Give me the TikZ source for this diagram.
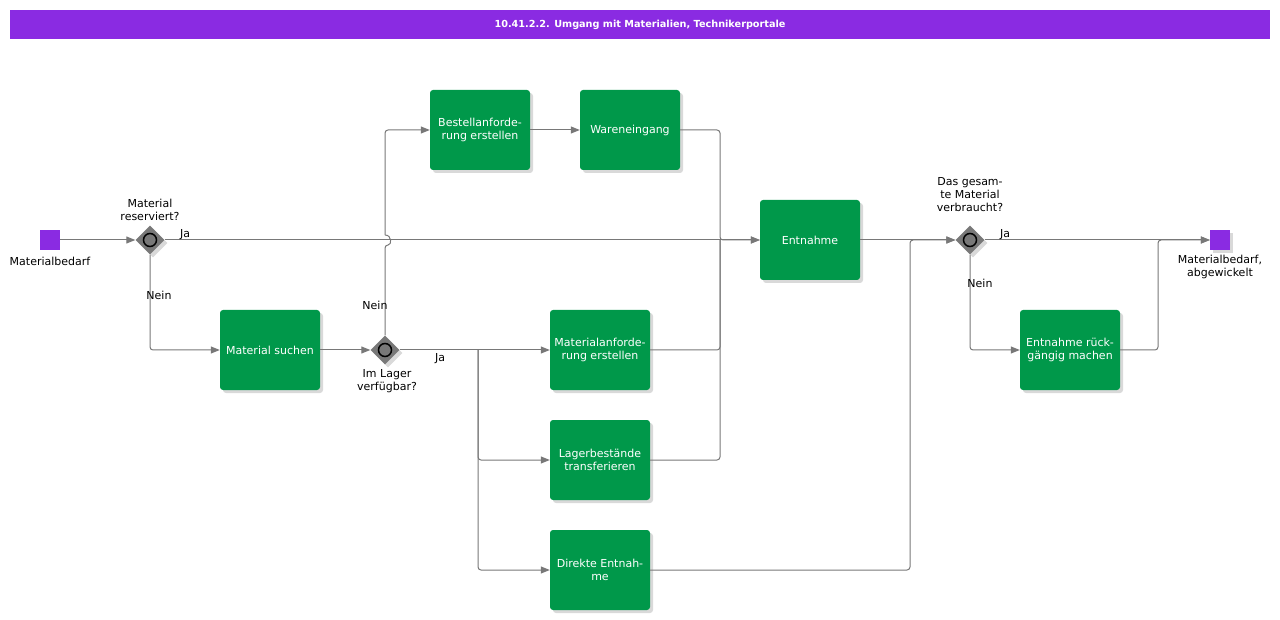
\documentclass[tikz,border=0pt]{standalone}
\usepackage{fontspec}
\setmainfont{DejaVu Sans}
\usetikzlibrary{shapes.geometric,arrows.meta,shadows}
\definecolor{titlepurple}{RGB}{138,43,226}
\definecolor{taskgreen}{RGB}{0,152,74}
\definecolor{flowgray}{RGB}{120,120,120}
\tikzset{
  lbl/.style={font=\fontsize{11}{13}\selectfont, align=center, inner sep=0pt},
  task/.style={fill=taskgreen, rounded corners=3pt, minimum width=100pt, minimum height=80pt,
    text=white, align=center, font=\fontsize{11}{12.5}\selectfont,
    drop shadow={shadow xshift=3pt, shadow yshift=-3pt, opacity=.3}},
  gate/.style={diamond, fill=flowgray, minimum size=29pt, inner sep=0pt,
    drop shadow={shadow xshift=3pt, shadow yshift=-3pt, opacity=.3}},
  ring/.style={circle, draw=black, line width=1.5pt, fill=flowgray, minimum size=13pt, inner sep=0pt},
  event/.style={fill=titlepurple, minimum size=20pt, inner sep=0pt},
  flow/.style={draw=flowgray, line width=1pt, rounded corners=3pt},
  arr/.style={-{Triangle[length=9pt,width=7pt,fill=flowgray]}}
}
\begin{document}
\begin{tikzpicture}[x=1pt,y=-1pt]
\useasboundingbox (0,0) rectangle (1280,620);
% title bar
\fill[titlepurple] (10,10) rectangle (1270,39);
\node[text=white, font=\fontsize{9.7}{12}\selectfont\bfseries] (title) at (640,24.5) {10.41.2.2. Umgang mit Materialien, Technikerportale};

% events
\node[event] (start) at (50,240) {};
\node[event, drop shadow={shadow xshift=3pt, shadow yshift=-3pt, opacity=.3}] (ende) at (1220,240) {};
\node[lbl] (startlbl) at (50,261) {Materialbedarf};
\node[lbl] (endelbl) at (1220,267) {Materialbedarf,\\abgewickelt};

% gateways
\node[gate] (g1) at (150,240) {};
\node[ring] at (g1) {};
\node[gate] (g2) at (385,350) {};
\node[ring] at (g2) {};
\node[gate] (g3) at (970,240) {};
\node[ring] at (g3) {};
\node[lbl] (g1lbl) at (150,209.5) {Material\\reserviert?};
\node[lbl] (g2lbl) at (387,381.5) {Im Lager\\verfügbar?};
\node[lbl] (g3lbl) at (970,194.5) {Das gesam-\\te Material\\verbraucht?};

% tasks
\node[task] (such) at (270,350) {Material suchen};
\node[task] (best) at (480,130) {Bestellanforde-\\rung erstellen};
\node[task] (ware) at (630,130) {Wareneingang};
\node[task] (entn) at (810,240) {Entnahme};
\node[task] (mata) at (600,350) {Materialanforde-\\rung erstellen};
\node[task] (lager) at (600,460) {Lagerbestände\\transferieren};
\node[task] (direkt) at (600,570) {Direkte Entnah-\\me};
\node[task] (rueck) at (1070,350) {Entnahme rück-\\gängig machen};

% helper points
\coordinate (split) at (478,350);
\coordinate (join) at (720,240);
\coordinate (rise) at (910,240);
\coordinate (back) at (1158,240);

% flows
\draw[flow,arr] (start) -- (g1.west);
\draw[flow,arr] (g1.east) -- (entn.west);
\draw[flow,arr] (g1.south) |- (such.west);
\draw[flow,arr] (such) -- (g2.west);
\draw[flow] (g2.north) -- ([yshift=-5pt]g2.north |- g1.east)
  .. controls +(7pt,0) and +(7pt,0) .. ([yshift=5pt]g2.north |- g1.east);
\draw[flow,arr] ([yshift=5pt]g2.north |- g1.east) |- (best.west);
\draw[flow,arr] (best) -- (ware);
\draw[flow,arr] (ware.east) -| (join) -- (entn.west);
\draw[flow,arr] (g2.east) -- (mata.west);
\draw[flow,arr] (split) -- (split |- lager) -- (lager.west);
\draw[flow,arr] (split) -- (split |- direkt) -- (direkt.west);
\draw[flow] (mata.east) -| (join);
\draw[flow] (lager.east) -| (join);
\draw[flow,arr] (entn) -- (g3.west);
\draw[flow,arr] (direkt.east) -| (rise) -- (g3.west);
\draw[flow,arr] (g3.east) -- (ende.west);
\draw[flow,arr] (g3.south) |- (rueck.west);
\draw[flow,arr] (rueck.east) -| (back) -- (ende.west);

% branch labels
\node[lbl] (ja1) at (185,235) {Ja};
\node[lbl] (nein1) at (159,295) {Nein};
\node[lbl] (nein2) at (375,305) {Nein};
\node[lbl] (ja2) at (440,359) {Ja};
\node[lbl] (ja3) at (1005,235) {Ja};
\node[lbl] (nein3) at (980,283) {Nein};
\end{tikzpicture}
\end{document}
